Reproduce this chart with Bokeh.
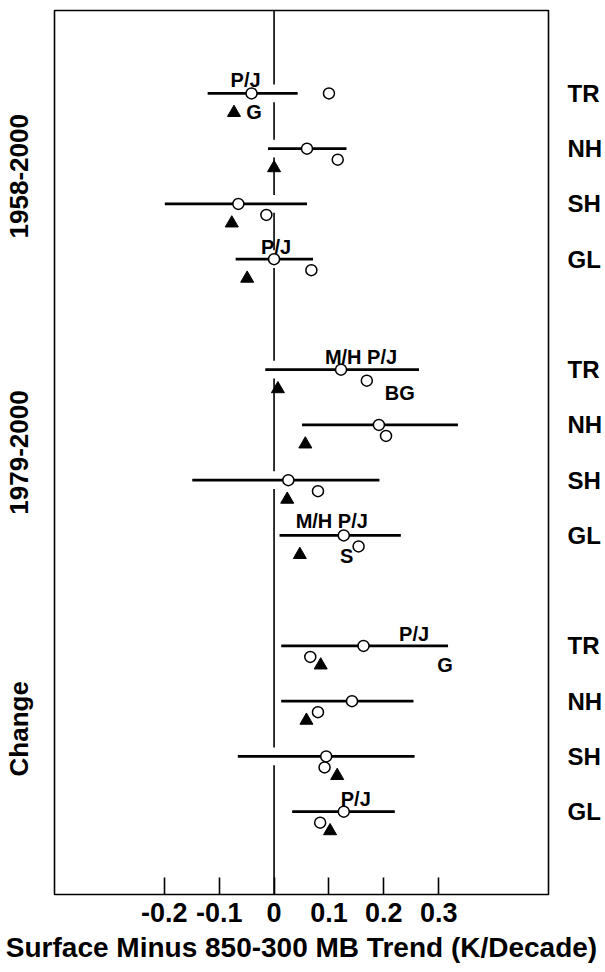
from bokeh.plotting import figure
from bokeh.models import Range1d, LinearAxis, FixedTicker, ColumnDataSource
from bokeh.embed import file_html
from bokeh.resources import INLINE
from bokeh.core.properties import value

# ---------------- data ----------------
periods = ["1958-2000", "1979-2000", "Change"]
regions = ["TR", "NH", "SH", "GL"]

# one entry per row: TR,NH,SH,GL for 1958-2000, then 1979-2000, then Change
bar_low = [-0.121, -0.011, -0.199, -0.070,
           -0.016, 0.051, -0.149, 0.010,
           0.013, 0.013, -0.066, 0.033]
bar_high = [0.043, 0.132, 0.060, 0.071,
            0.264, 0.335, 0.192, 0.231,
            0.317, 0.254, 0.256, 0.220]
circle_on_bar = [-0.041, 0.060, -0.065, 0.000,
                 0.122, 0.191, 0.026, 0.127,
                 0.163, 0.142, 0.095, 0.127]
circle_below = [0.100, 0.116, -0.014, 0.068,
                0.169, 0.204, 0.080, 0.154,
                0.066, 0.080, 0.092, 0.084]
triangle = [-0.073, 0.000, -0.077, -0.049,
            0.007, 0.057, 0.024, 0.047,
            0.085, 0.059, 0.115, 0.102]

tick_values = [-0.2, -0.1, 0, 0.1, 0.2, 0.3]
tick_labels = ["-0.2", "-0.1", "0", "0.1", "0.2", "0.3"]
x_label = "Surface Minus 850-300 MB Trend (K/Decade)"

# annotations attached to a row and one of its marks
note_row = [0, 0, 3, 4, 4, 7, 7, 8, 8, 11]
note_anchor = ["circle_on_bar", "triangle", "circle_on_bar", "circle_on_bar", "circle_below",
               "circle_on_bar", "circle_below", "bar_high", "bar_high", "circle_on_bar"]
note_text = ["P/J", "G", "P/J", "M/H P/J", "BG", "M/H P/J", "S", "P/J", "G", "P/J"]

# ---------------- layout ----------------
FONT = "Liberation Sans"
ROW_Y = [1.5 + 5 * g + i for g in range(len(periods)) for i in range(len(regions))]
GROUP_Y = [sum(ROW_Y[4 * g:4 * g + 4]) / 4 for g in range(len(periods))]
BELOW_DY = [0.0] + [0.2] * 11
TRI_DY = 0.35
note_dx = [-6, 20, 2, 20, 33, -12, -12, -34, -3, 12]
note_dy = [-13, -1, -12, -13, 12, -14, 10, -12, 19, -12.5]

p = figure(width=605, height=972, output_backend="svg", toolbar_location=None,
           x_range=Range1d(-0.4, 0.5), y_range=Range1d(16, 0),
           x_axis_location="below", y_axis_location=None,
           min_border_left=53, min_border_right=53, min_border_top=10, min_border_bottom=78)
p.background_fill_color = "white"
p.border_fill_color = "white"
p.outline_line_color = "black"
p.outline_line_width = 1.6
p.xgrid.visible = False
p.ygrid.visible = False

xa = p.xaxis[0]
xa.ticker = FixedTicker(ticks=tick_values)
xa.major_label_overrides = {v: t for v, t in zip(tick_values, tick_labels)}
xa.major_tick_in = 17
xa.major_tick_out = 0
xa.major_tick_line_width = 1.6
xa.major_tick_line_color = "black"
xa.minor_tick_line_color = None
xa.axis_line_color = None
xa.major_label_text_font = FONT
xa.major_label_text_font_style = "bold"
xa.major_label_text_font_size = "27px"
xa.major_label_text_color = "black"
xa.major_label_standoff = 8
xa.axis_label = x_label
xa.axis_label_text_font = FONT
xa.axis_label_text_font_style = "bold"
xa.axis_label_text_font_size = "28px"
xa.axis_label_text_color = "black"
xa.axis_label_standoff = 7

ra = LinearAxis(ticker=FixedTicker(ticks=ROW_Y),
                major_label_overrides={y: regions[i % 4] for i, y in enumerate(ROW_Y)})
ra.axis_line_color = None
ra.major_tick_line_color = None
ra.minor_tick_line_color = None
ra.major_label_standoff = 13
ra.major_label_text_font = FONT
ra.major_label_text_font_style = "bold"
ra.major_label_text_font_size = "24px"
ra.major_label_text_color = "black"
p.add_layout(ra, "right")

la = LinearAxis(ticker=FixedTicker(ticks=GROUP_Y),
                major_label_overrides={y: periods[g] for g, y in enumerate(GROUP_Y)})
la.axis_line_color = None
la.major_tick_line_color = None
la.minor_tick_line_color = None
la.major_label_orientation = "parallel"
la.major_label_standoff = 15
la.major_label_text_font = FONT
la.major_label_text_font_style = "bold"
la.major_label_text_font_size = "26px"
la.major_label_text_color = "black"
p.add_layout(la, "left")

# zero line, broken where a bar crosses it
gap = 0.16
cuts = sorted(y for y, lo, hi in zip(ROW_Y, bar_low, bar_high) if lo < 0 < hi)
seg_start, seg_end, cur = [], [], 0.0
for c in cuts:
    seg_start.append(cur)
    seg_end.append(c - gap)
    cur = c + gap
seg_start.append(cur)
seg_end.append(16.0)
p.segment(x0=[0] * len(seg_start), y0=seg_start, x1=[0] * len(seg_start), y1=seg_end,
          line_color="black", line_width=1.6)

src = ColumnDataSource(dict(
    lo=bar_low, hi=bar_high, y=ROW_Y, c1=circle_on_bar, c2=circle_below,
    y2=[y + d for y, d in zip(ROW_Y, BELOW_DY)], tri=triangle,
    ytri=[y + TRI_DY for y in ROW_Y]))

p.segment(x0="lo", y0="y", x1="hi", y1="y", source=src, line_color="black", line_width=2.6)
p.scatter(x="tri", y="ytri", source=src, marker="triangle", size=13,
          fill_color="black", line_color="black", line_width=1)
p.scatter(x="c2", y="y2", source=src, marker="circle", size=11,
          fill_color="white", line_color="black", line_width=1.5)
p.scatter(x="c1", y="y", source=src, marker="circle", size=11,
          fill_color="white", line_color="black", line_width=1.5)

anchors = {"circle_on_bar": (circle_on_bar, [0.0] * 12),
           "circle_below": (circle_below, BELOW_DY),
           "triangle": (triangle, [TRI_DY] * 12),
           "bar_high": (bar_high, [0.0] * 12)}
nx, ny = [], []
for r, a in zip(note_row, note_anchor):
    xs, dys = anchors[a]
    nx.append(xs[r])
    ny.append(ROW_Y[r] + dys[r])
nsrc = ColumnDataSource(dict(x=nx, y=ny, t=note_text, dx=note_dx, dy=note_dy))
p.text(x="x", y="y", text="t", source=nsrc, x_offset="dx", y_offset="dy",
       text_font=value(FONT), text_font_style="bold", text_font_size="20px",
       text_align="center", text_baseline="middle", text_color="black")

open("out.html", "w").write(file_html(p, INLINE))
